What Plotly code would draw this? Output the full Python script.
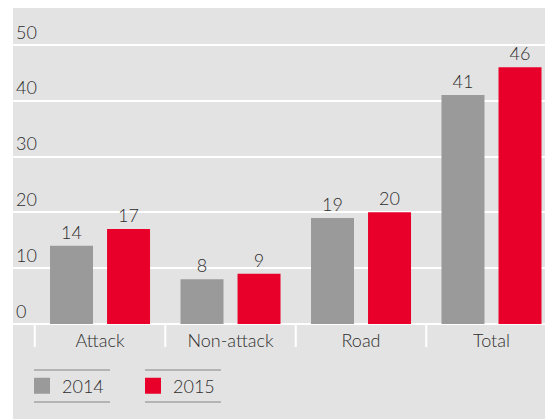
import plotly.graph_objects as go

categories = ["Attack", "Non-attack", "Road", "Total"]
values_2014 = [14, 8, 19, 41]
values_2015 = [17, 9, 20, 46]
series_names = ["2014", "2015"]
y_ticks = [0, 10, 20, 30, 40, 50]

GRAY = "#9a9a9a"
RED = "#e8002a"
BG = "#e3e3e3"
TXT = "#2e2e2e"
FONT = "Lato"
W = 300

fig = go.Figure()
for name, vals, col in [(series_names[0], values_2014, GRAY), (series_names[1], values_2015, RED)]:
    fig.add_trace(go.Bar(
        x=categories, y=vals, name=name, marker_color=col, marker_line_width=0,
        text=vals, textposition="outside", cliponaxis=False,
        textfont=dict(family=FONT, size=18, color=TXT, weight=W),
        showlegend=False,
    ))
    # legend proxy with a larger square symbol
    fig.add_trace(go.Scatter(
        x=[None], y=[None], mode="markers", name=name,
        marker=dict(symbol="square", size=16, color=col),
        showlegend=True,
    ))

shapes = [
    dict(type="rect", xref="paper", yref="paper", x0=0, x1=1, y0=-0.32, y1=1,
         fillcolor=BG, line_width=0, layer="below"),
]
# category separators below the axis
for i in range(len(categories)):
    shapes.append(dict(type="line", xref="x", yref="paper", x0=i - 0.5, x1=i - 0.5,
                       y0=0, y1=-23 / 316, line=dict(color="white", width=2), layer="above"))
# legend rules above/below each entry
for xs in [(34, 110), (145, 221)]:
    for yp in (370, 402):
        shapes.append(dict(type="line", xref="paper", yref="paper",
                           x0=(xs[0] - 13) / 532, x1=(xs[1] - 13) / 532,
                           y0=(324 - yp) / 316, y1=(324 - yp) / 316,
                           line=dict(color="#b4b4b4", width=2)))

fig.update_layout(
    width=545, height=419,
    margin=dict(l=13, r=0, t=8, b=95),
    paper_bgcolor="white", plot_bgcolor=BG,
    barmode="group", bargap=0.126, bargroupgap=0.246,
    font=dict(family=FONT, size=18, color=TXT, weight=W),
    shapes=shapes,
    legend=dict(orientation="h", x=(42 - 20 - 13) / 532, xanchor="left",
                y=(324 - 386) / 316, yanchor="middle",
                font=dict(family=FONT, size=18, color=TXT, weight=W),
                entrywidth=66, entrywidthmode="pixels",
                bgcolor="rgba(0,0,0,0)", itemclick=False),
    xaxis=dict(range=[-0.667, 3.41], showgrid=False, ticks="", showline=False,
               ticklabelstandoff=4,
               tickfont=dict(family=FONT, size=18, color=TXT, weight=W), zeroline=False),
    yaxis=dict(range=[0, 56.6], tickvals=y_ticks, showgrid=True, gridcolor="white",
               gridwidth=2, zeroline=True, zerolinecolor="white", zerolinewidth=2,
               ticklabelposition="inside top", showline=False, ticks="",
               tickfont=dict(family=FONT, size=18, color=TXT, weight=W)),
)

fig.write_html("out.html", config={"displayModeBar": False},
               post_script="document.body.style.margin='0';")
